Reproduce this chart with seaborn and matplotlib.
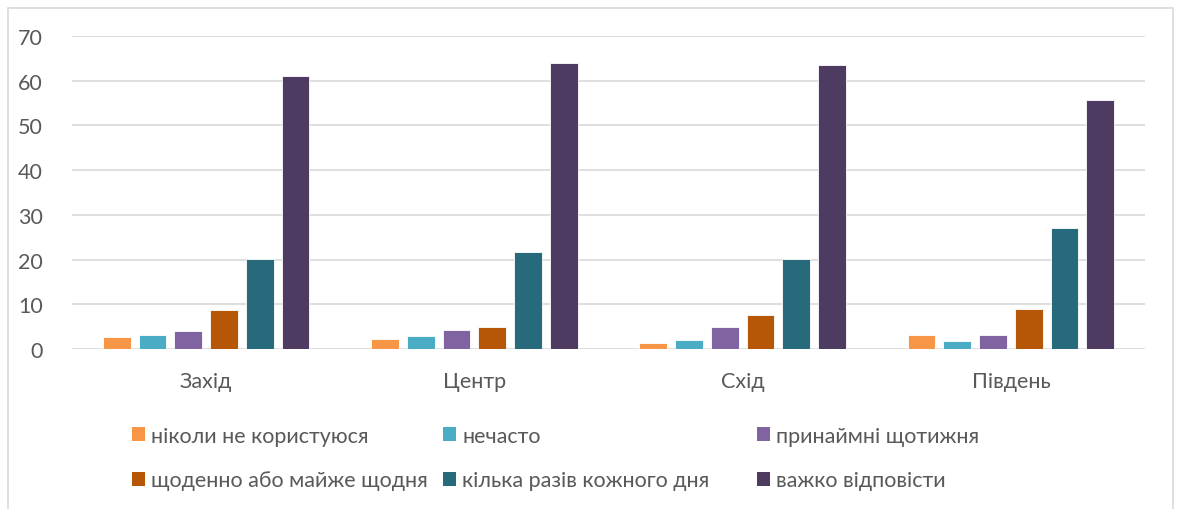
import matplotlib

matplotlib.use("Agg")
import matplotlib.pyplot as plt
import pandas as pd
import seaborn as sns
from matplotlib.patches import Patch, Rectangle

regions = ["Захід", "Центр", "Схід", "Південь"]
answers = [
    "ніколи не користуюся",
    "нечасто",
    "принаймні щотижня",
    "щоденно або майже щодня",
    "кілька разів кожного дня",
    "важко відповісти",
]
never = [2.6, 2.2, 1.3, 3.1]
rarely = [3.2, 2.8, 2.0, 1.8]
weekly = [4.0, 4.2, 4.9, 3.1]
daily = [8.7, 4.9, 7.5, 8.9]
several_daily = [20.1, 21.6, 20.1, 27.1]
hard_to_say = [61.0, 63.9, 63.6, 55.7]
colors = ["#F79646", "#4BACC6", "#8064A2", "#B65708", "#276A7C", "#4D3B62"]

series = [never, rarely, weekly, daily, several_daily, hard_to_say]
rows = []
for answer, values in zip(answers, series):
    for region, value in zip(regions, values):
        rows.append({"region": region, "answer": answer, "value": value})
df = pd.DataFrame(rows)

sns.set_style("white")
plt.rcParams["font.family"] = ["Lato", "DejaVu Sans"]
text_color = "#595959"
grid_color = "#D9D9D9"

fig = plt.figure(figsize=(11.79, 5.10), dpi=100)
ax = fig.add_axes([72 / 1179, 160 / 510, (1145 - 72) / 1179, 313 / 510])

sns.barplot(
    data=df, x="region", y="value", hue="answer", order=regions, hue_order=answers,
    palette=colors, saturation=1, width=0.8, gap=0.22, edgecolor="white", linewidth=0.6,
    legend=False, ax=ax,
)

ax.set_ylim(0, 70)
ax.set_xlim(-0.5, 3.5)
ax.set_yticks(range(0, 71, 10))
ax.yaxis.grid(True, color=grid_color, linewidth=1.2)
ax.set_axisbelow(True)
for spine in ax.spines.values():
    spine.set_visible(False)
ax.set_xlabel("")
ax.set_ylabel("")
ax.tick_params(axis="y", length=0, pad=21, labelsize=15.5, labelcolor=text_color)
ax.tick_params(axis="x", length=0, pad=16, labelsize=15.5, labelcolor=text_color)

# outer chart frame
fig.add_artist(Rectangle((8 / 1179, -0.1), (1173 - 8) / 1179, 0.1 + (510 - 9) / 510,
                         transform=fig.transFigure, fill=False, edgecolor=grid_color,
                         linewidth=1.2, clip_on=False))

handles = [Patch(facecolor=c, edgecolor="none") for c in colors]
col_x = [132 / 1179, 443 / 1179, 757 / 1179]
for j, x in enumerate(col_x):
    leg = fig.legend(
        handles=[handles[j], handles[j + 3]], labels=[answers[j], answers[j + 3]],
        loc="center left", bbox_to_anchor=(x, 0.1), frameon=False,
        fontsize=15.5, labelcolor=text_color, handlelength=0.6, handleheight=0.6,
        handletextpad=0.3, labelspacing=1.15, borderpad=0, borderaxespad=0,
    )

fig.savefig("out.png", dpi=100)
